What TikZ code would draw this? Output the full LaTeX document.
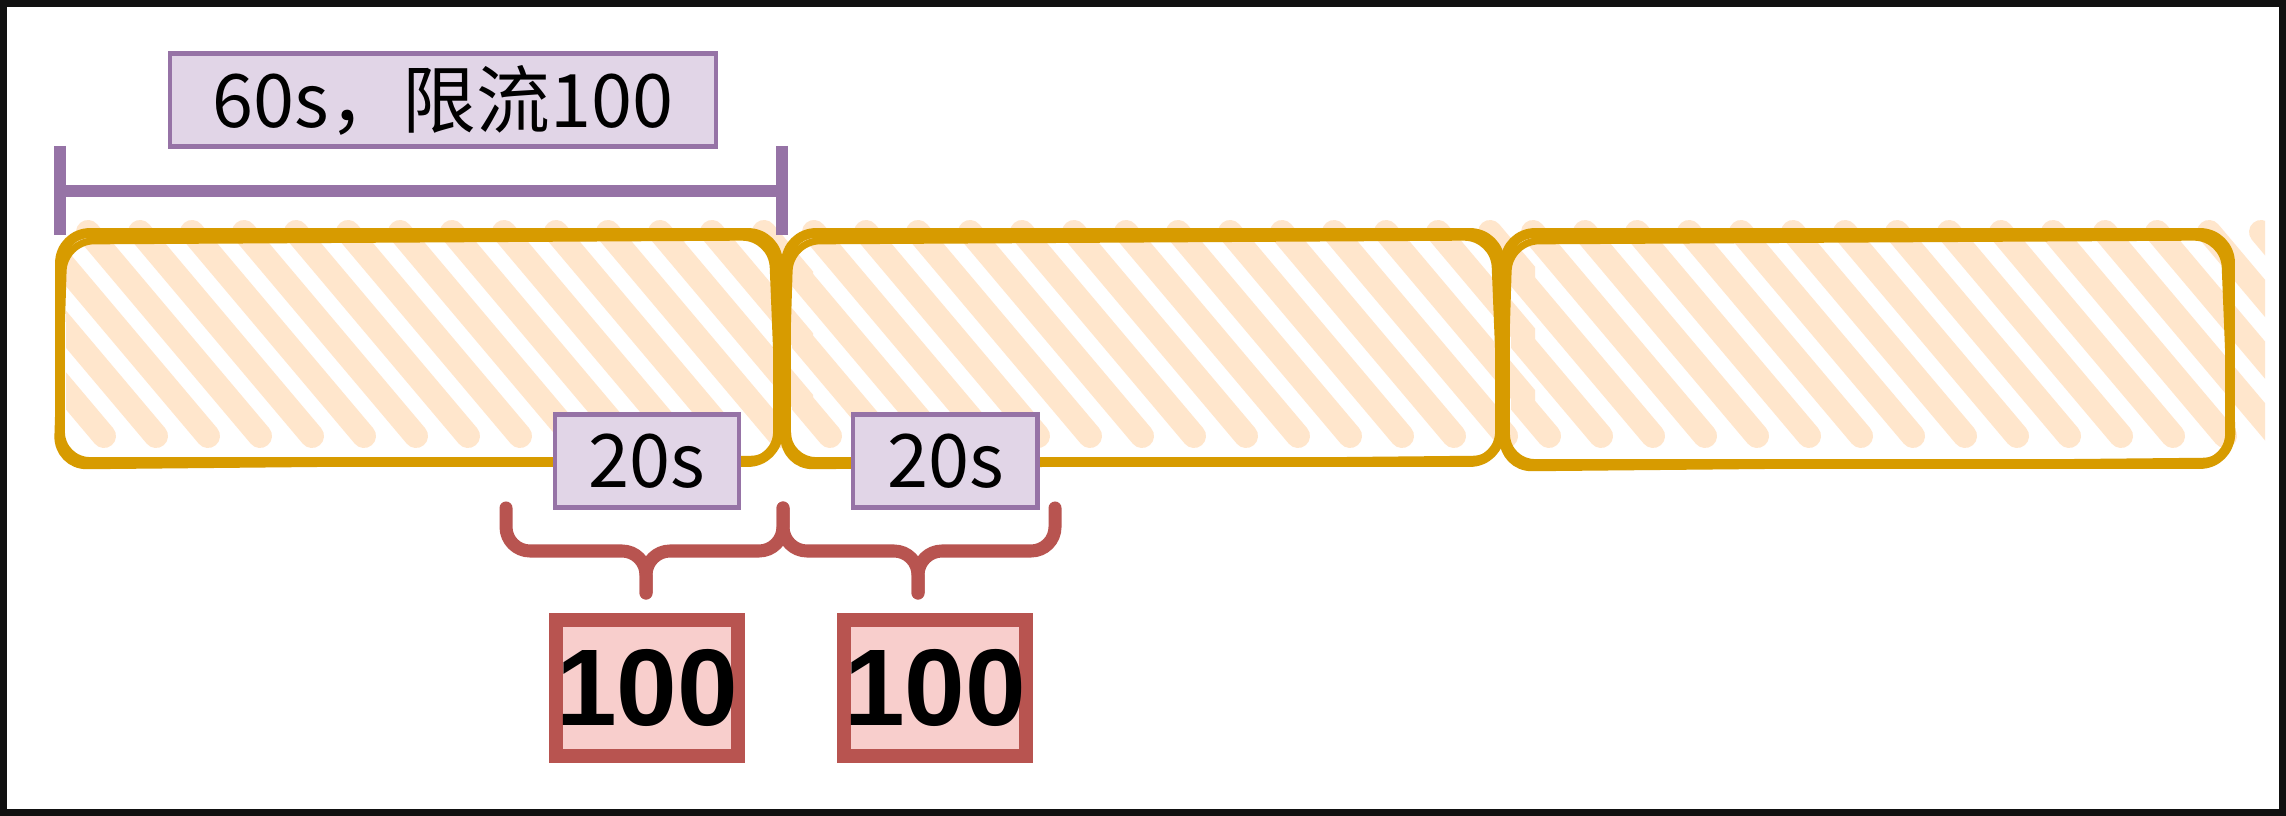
\documentclass[tikz,border=0pt]{standalone}
\usepackage{fontspec}
\newfontfamily\cjk{Noto Sans CJK SC}
\newfontfamily\numfont{Liberation Sans}
\usetikzlibrary{positioning}
\definecolor{spanpurple}{HTML}{9673A6}
\definecolor{lblfill}{HTML}{E1D5E7}
\definecolor{bracered}{HTML}{B85450}
\definecolor{cntfill}{HTML}{F8CECC}
\definecolor{winorange}{HTML}{D79B00}
\definecolor{hatchorange}{HTML}{FFE6CC}
\definecolor{framecol}{HTML}{111111}

\newcommand\hatchfill[2]{%
  \begin{scope}
    \clip (#1+6,190) rectangle (#2+35,480);
    \foreach \h in {-180,-128,...,770}
      \draw[hatch] (#1+\h,232) -- ++(172,204);
  \end{scope}}
\newcommand\sketchbox[4]{%
  \draw[sketch] (#1,#2) rectangle (#3,#4);
  \draw[sketch, line width=2pt] (#1+4,#2+8) -- (#3-6,#2+4) -- (#3+3,#4-3) -- (#1-3,#4+4) -- cycle;}

\begin{document}
\begin{tikzpicture}[
    x=0.01cm, y=-0.01cm,
    lbl/.style={draw=spanpurple, fill=lblfill, line width=1.2pt, inner sep=0pt,
      minimum height=0.93cm, font=\cjk\fontsize{21}{25}\selectfont},
    cnt/.style={draw=bracered, fill=cntfill, line width=4pt, inner sep=0pt,
      minimum width=1.8cm, minimum height=1.36cm,
      font=\numfont\bfseries\fontsize{31}{34}\selectfont},
    brace/.style={draw=bracered, line width=3.7pt, rounded corners=0.24cm, line cap=round},
    span/.style={draw=spanpurple, line width=3.5pt},
    sketch/.style={draw=winorange, line width=2.8pt, rounded corners=0.3cm,
      line cap=round, line join=round},
    hatch/.style={draw=hatchorange, line width=0.24cm, line cap=round}
  ]
    \useasboundingbox (0,0) rectangle (2286,816);
    \fill[white] (0,0) rectangle (2286,816);

    \hatchfill{60}{778}
    \hatchfill{786}{1500}
    \hatchfill{1505}{2230}
    \sketchbox{60}{233}{778}{462}
    \sketchbox{786}{233}{1500}{462}
    \sketchbox{1505}{233}{2230}{464}

    \coordinate (p0) at (60,146);
    \coordinate (p1) at (782,146);
    \draw[span] (p0) -- ++(0,89);
    \draw[span] (p1) -- ++(0,89);
    \draw[span] (p0 |- 0,191) -- (p1 |- 0,191);

    \node[lbl, minimum width=5.45cm] (win) at (443,100) {60s，限流100};
    \node[lbl, minimum width=1.84cm] (sa) at (647,461) {20s};
    \node[lbl, minimum width=1.84cm, right=1.1cm of sa] (sb) {20s};

    \coordinate (e0) at (506,508);
    \coordinate (e1) at (783,508);
    \coordinate (e2) at (1055,508);
    \coordinate (k1) at (646,551);
    \coordinate (k2) at (918,551);
    \draw[brace] (e0) |- (k1) -- ++(0,42);
    \draw[brace] (e1) |- (k1) -- ++(0,42);
    \draw[brace] (e1) |- (k2) -- ++(0,42);
    \draw[brace] (e2) |- (k2) -- ++(0,42);

    \node[cnt] (ca) at (647,688) {100};
    \node[cnt, right=0.92cm of ca] (cb) {100};

    \draw[framecol, line width=0.07cm] (3.5,3.5) rectangle (2282.5,812.5);
  \end{tikzpicture}
\end{document}
